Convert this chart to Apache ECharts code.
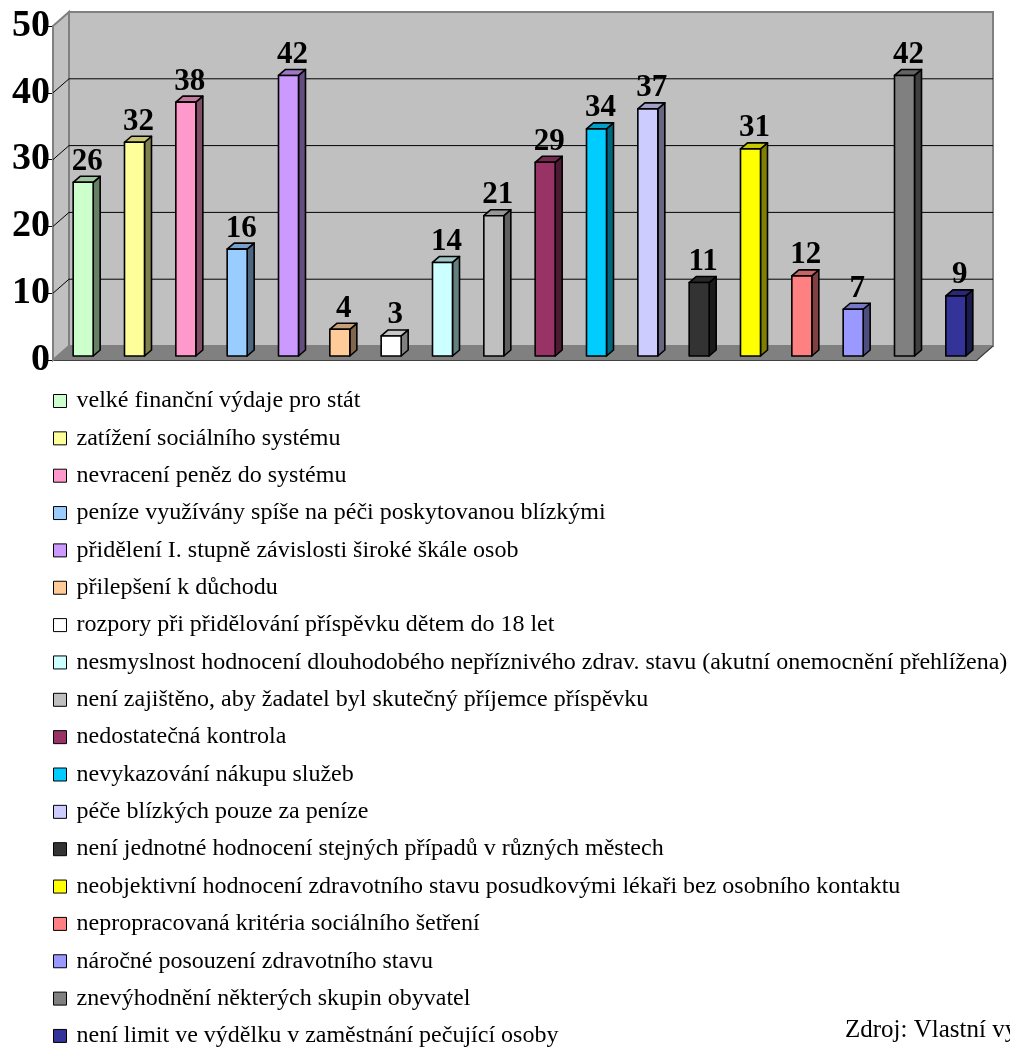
<!DOCTYPE html>
<html>
<head>
<meta charset="utf-8">
<title>Nevýhody příspěvku na péči</title>
<script src="https://cdn.jsdelivr.net/npm/echarts@6/dist/echarts.min.js"></script>
<style>
  html, body { margin: 0; padding: 0; background: #ffffff; }
  #chart { width: 1010px; height: 1048px; }
</style>
</head>
<body>
<div id="chart"></div>
<script>
// Categories (legend entries) in bar order
const categories = [
  'velké finanční výdaje pro stát',
  'zatížení sociálního systému',
  'nevracení peněz do systému',
  'peníze využívány spíše na péči poskytovanou blízkými',
  'přidělení I. stupně závislosti široké škále osob',
  'přilepšení k důchodu',
  'rozpory při přidělování příspěvku dětem do 18 let',
  'nesmyslnost hodnocení dlouhodobého nepříznivého zdrav. stavu (akutní onemocnění přehlížena)',
  'není zajištěno, aby žadatel byl skutečný příjemce příspěvku',
  'nedostatečná kontrola',
  'nevykazování nákupu služeb',
  'péče blízkých pouze za peníze',
  'není jednotné hodnocení stejných případů v různých městech',
  'neobjektivní hodnocení zdravotního stavu posudkovými lékaři bez osobního kontaktu',
  'nepropracovaná kritéria sociálního šetření',
  'náročné posouzení zdravotního stavu',
  'znevýhodnění některých skupin obyvatel',
  'není limit ve výdělku v zaměstnání pečující osoby'
];

// Number of responses per category
const values = [26, 32, 38, 16, 42, 4, 3, 14, 21, 29, 34, 37, 11, 31, 12, 7, 42, 9];

// Bar fill colours
const colors = [
  '#CCFFCC', '#FFFF99', '#FF99CC', '#99CCFF', '#CC99FF', '#FFCC99',
  '#FFFFFF', '#CCFFFF', '#C0C0C0', '#993366', '#00CCFF', '#CCCCFF',
  '#333333', '#FFFF00', '#FF8080', '#9999FF', '#808080', '#333399'
];

// Value axis ticks
const yTicks = [0, 10, 20, 30, 40, 50];

const sourceNote = 'Zdroj: Vlastní výzkum';

// 3D look: wall depth and bar offsets (pixels)
const WALL_DX = 16, WALL_DY = -14;
const BAR_SHIFT_X = 4.5, BAR_SHIFT_Y = -4;
const BAR_DX = 7, BAR_DY = -6;
const BAR_W = 20;
const SERIF = '"Liberation Serif", "Times New Roman", serif';

function shade(hex, f) {
  const n = parseInt(hex.slice(1), 16);
  const r = Math.round(((n >> 16) & 255) * f);
  const g = Math.round(((n >> 8) & 255) * f);
  const b = Math.round((n & 255) * f);
  return 'rgb(' + r + ',' + g + ',' + b + ')';
}

// Walls, floor and gridlines of the 3D box
function renderWalls(params, api) {
  const cs = params.coordSys;
  const v = api.value(1);
  const y = api.coord([0, v])[1];
  const x0 = cs.x, x1 = cs.x + cs.width;
  const children = [];
  if (params.dataIndex === 0) {
    const yTop = api.coord([0, yTicks[yTicks.length - 1]])[1];
    const yBot = y;
    const edge = { stroke: '#808080', lineWidth: 2 };
    children.push({
      type: 'polygon',
      shape: { points: [[x0 + WALL_DX, yTop + WALL_DY], [x1 + WALL_DX, yTop + WALL_DY], [x1 + WALL_DX, yBot + WALL_DY], [x0 + WALL_DX, yBot + WALL_DY]] },
      style: Object.assign({ fill: '#C0C0C0' }, edge)
    });
    children.push({
      type: 'polygon',
      shape: { points: [[x0, yTop], [x0 + WALL_DX, yTop + WALL_DY], [x0 + WALL_DX, yBot + WALL_DY], [x0, yBot]] },
      style: Object.assign({ fill: '#C0C0C0' }, edge)
    });
    children.push({
      type: 'polygon',
      shape: { points: [[x0, yBot], [x0 + WALL_DX, yBot + WALL_DY], [x1 + WALL_DX, yBot + WALL_DY], [x1, yBot]] },
      style: { fill: '#808080', stroke: '#808080', lineWidth: 1 }
    });
    children.push({
      type: 'line',
      shape: { x1: x1, y1: yBot, x2: x1 + WALL_DX, y2: yBot + WALL_DY },
      style: { stroke: '#404040', lineWidth: 1.2 }
    });
  } else if (v !== yTicks[yTicks.length - 1]) {
    children.push({
      type: 'line',
      shape: { x1: x0 + WALL_DX, y1: y + WALL_DY, x2: x1 + WALL_DX, y2: y + WALL_DY },
      style: { stroke: '#000', lineWidth: 1 }
    });
    children.push({
      type: 'line',
      shape: { x1: x0, y1: y, x2: x0 + WALL_DX, y2: y + WALL_DY },
      style: { stroke: '#000', lineWidth: 1 }
    });
  }
  return { type: 'group', children: children };
}

// One 3D bar (front, side, top) with its value label
function makeBarRenderer(color) {
  return function (params, api) {
    const i = api.value(0);
    const v = api.value(1);
    const pTop = api.coord([i, v]);
    const pBase = api.coord([i, 0]);
    const cx = pTop[0] + BAR_SHIFT_X;
    const xl = cx - BAR_W / 2, xr = cx + BAR_W / 2;
    const yt = pTop[1] + BAR_SHIFT_Y, yb = pBase[1] + BAR_SHIFT_Y;
    const stroke = { stroke: '#000', lineWidth: 1.6, lineJoin: 'round' };
    return {
      type: 'group',
      children: [
        {
          type: 'polygon',
          shape: { points: [[xr, yt], [xr + BAR_DX, yt + BAR_DY], [xr + BAR_DX, yb + BAR_DY], [xr, yb]] },
          style: Object.assign({ fill: shade(color, 0.5) }, stroke)
        },
        {
          type: 'polygon',
          shape: { points: [[xl, yt], [xl + BAR_DX, yt + BAR_DY], [xr + BAR_DX, yt + BAR_DY], [xr, yt]] },
          style: Object.assign({ fill: shade(color, 0.78) }, stroke)
        },
        {
          type: 'rect',
          shape: { x: xl, y: yt, width: BAR_W, height: yb - yt },
          style: Object.assign({ fill: color }, stroke)
        },
        {
          type: 'text',
          style: {
            text: String(v),
            x: cx + 4,
            y: yt + BAR_DY + 1,
            align: 'center',
            verticalAlign: 'bottom',
            fontFamily: SERIF,
            fontWeight: 'bold',
            fontSize: 31,
            fill: '#000'
          }
        }
      ]
    };
  };
}

const series = [{
  name: '__walls',
  type: 'custom',
  z: 1,
  silent: true,
  renderItem: renderWalls,
  encode: { x: 0, y: 1 },
  data: yTicks.map(function (t) { return [0, t]; })
}];

categories.forEach(function (name, i) {
  series.push({
    name: name,
    type: 'custom',
    z: 3,
    itemStyle: { color: colors[i] },
    renderItem: makeBarRenderer(colors[i]),
    encode: { x: 0, y: 1 },
    data: [[i, values[i]]]
  });
});

const chart = echarts.init(document.getElementById('chart'), null, { renderer: 'canvas' });
chart.setOption({
  animation: false,
  backgroundColor: '#ffffff',
  grid: { left: 53, right: 33, top: 26, bottom: 688, containLabel: false },
  xAxis: {
    type: 'category',
    data: categories,
    boundaryGap: true,
    axisLine: { show: true, lineStyle: { color: '#000', width: 1 } },
    axisTick: { show: false },
    axisLabel: { show: false },
    splitLine: { show: false }
  },
  yAxis: {
    type: 'value',
    min: 0,
    max: 50,
    interval: 10,
    axisLine: { show: true, lineStyle: { color: '#000', width: 1 } },
    axisTick: { show: true, length: 6, lineStyle: { color: '#000' } },
    axisLabel: {
      margin: 3,
      color: '#000',
      fontFamily: SERIF,
      fontWeight: 'bold',
      fontSize: 38
    },
    splitLine: { show: false }
  },
  legend: {
    type: 'plain',
    orient: 'vertical',
    left: 53,
    top: 389,
    padding: 0,
    itemGap: 13.35,
    itemWidth: 13,
    itemHeight: 13,
    icon: 'rect',
    selectedMode: false,
    data: categories,
    itemStyle: { borderColor: '#000', borderWidth: 1 },
    textStyle: {
      fontFamily: SERIF,
      fontSize: 24,
      lineHeight: 24,
      color: '#000',
      padding: [0, 0, 0, 5]
    }
  },
  graphic: [{
    type: 'text',
    left: 845,
    top: 1018,
    style: {
      text: sourceNote,
      fontFamily: SERIF,
      fontSize: 25,
      fill: '#000'
    }
  }],
  series: series
});
</script>
</body>
</html>
